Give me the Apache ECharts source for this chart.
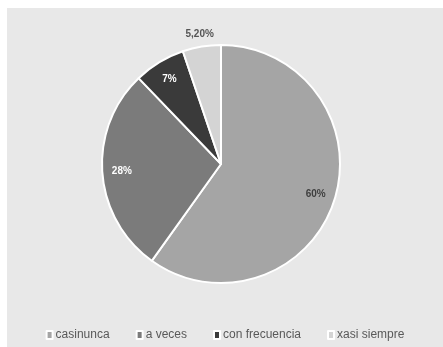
<!DOCTYPE html>
<html>
<head>
<meta charset="utf-8">
<script src="https://cdn.jsdelivr.net/npm/echarts@6/dist/echarts.min.js"></script>
<style>
  html, body { margin: 0; padding: 0; background: #fff; }
  #chart { position: absolute; left: 7px; top: 8px; width: 436px; height: 339px; background: #e8e8e8; }
</style>
</head>
<body>
<div id="chart"></div>
<script>
// categorías y valores
const categories = ['casinunca', 'a veces', 'con frecuencia', 'xasi siempre']
const values = [60, 28, 7, 5.2]
const labels = ['60%', '28%', '7%', '5,20%']
const colors = ['#a5a5a5', '#7b7b7b', '#3a3a3a', '#d4d4d4']

const chart = echarts.init(document.getElementById('chart'))

const center = [214, 156]
const R = 119

const mainData = categories.map((c, i) => ({ name: c, value: values[i] }))

// etiquetas: tres dentro, la última fuera
const innerLabelData = categories.map((c, i) => ({
  name: c,
  value: values[i],
  label: { show: i < 3, formatter: labels[i], color: i === 0 ? '#3f3f3f' : '#ffffff' }
}))
const outerLabelData = categories.map((c, i) => ({
  name: c,
  value: values[i],
  label: { show: i === 3, formatter: labels[i], color: '#555555' }
}))

const option = {
  animation: false,
  color: colors,
  legend: {
    data: categories,
    bottom: 1,
    left: 'center',
    icon: 'rect',
    itemWidth: 6,
    itemHeight: 8,
    itemGap: 26,
    textStyle: { fontFamily: 'Liberation Sans', fontSize: 12, color: '#595959', padding: [0, 0, 0, -2] }
  },
  series: [
    {
      type: 'pie',
      center: center,
      radius: R,
      startAngle: 90,
      clockwise: true,
      data: mainData,
      label: { show: false },
      labelLine: { show: false },
      itemStyle: { borderColor: '#ffffff', borderWidth: 2 },
      emphasis: { disabled: true }
    },
    {
      type: 'pie',
      center: center,
      radius: [R * 0.62, R],
      startAngle: 90,
      clockwise: true,
      silent: true,
      data: innerLabelData,
      itemStyle: { color: 'transparent', borderWidth: 0 },
      label: { position: 'inside', fontFamily: 'Liberation Sans', fontSize: 10, fontWeight: 'bold' },
      labelLine: { show: false },
      emphasis: { disabled: true }
    },
    {
      type: 'pie',
      center: center,
      radius: [R, R * 1.16],
      startAngle: 90,
      clockwise: true,
      silent: true,
      data: outerLabelData,
      itemStyle: { color: 'transparent', borderWidth: 0 },
      label: { position: 'inside', fontFamily: 'Liberation Sans', fontSize: 10, fontWeight: 'bold' },
      labelLine: { show: false },
      emphasis: { disabled: true }
    }
  ]
}

chart.setOption(option)
</script>
</body>
</html>
